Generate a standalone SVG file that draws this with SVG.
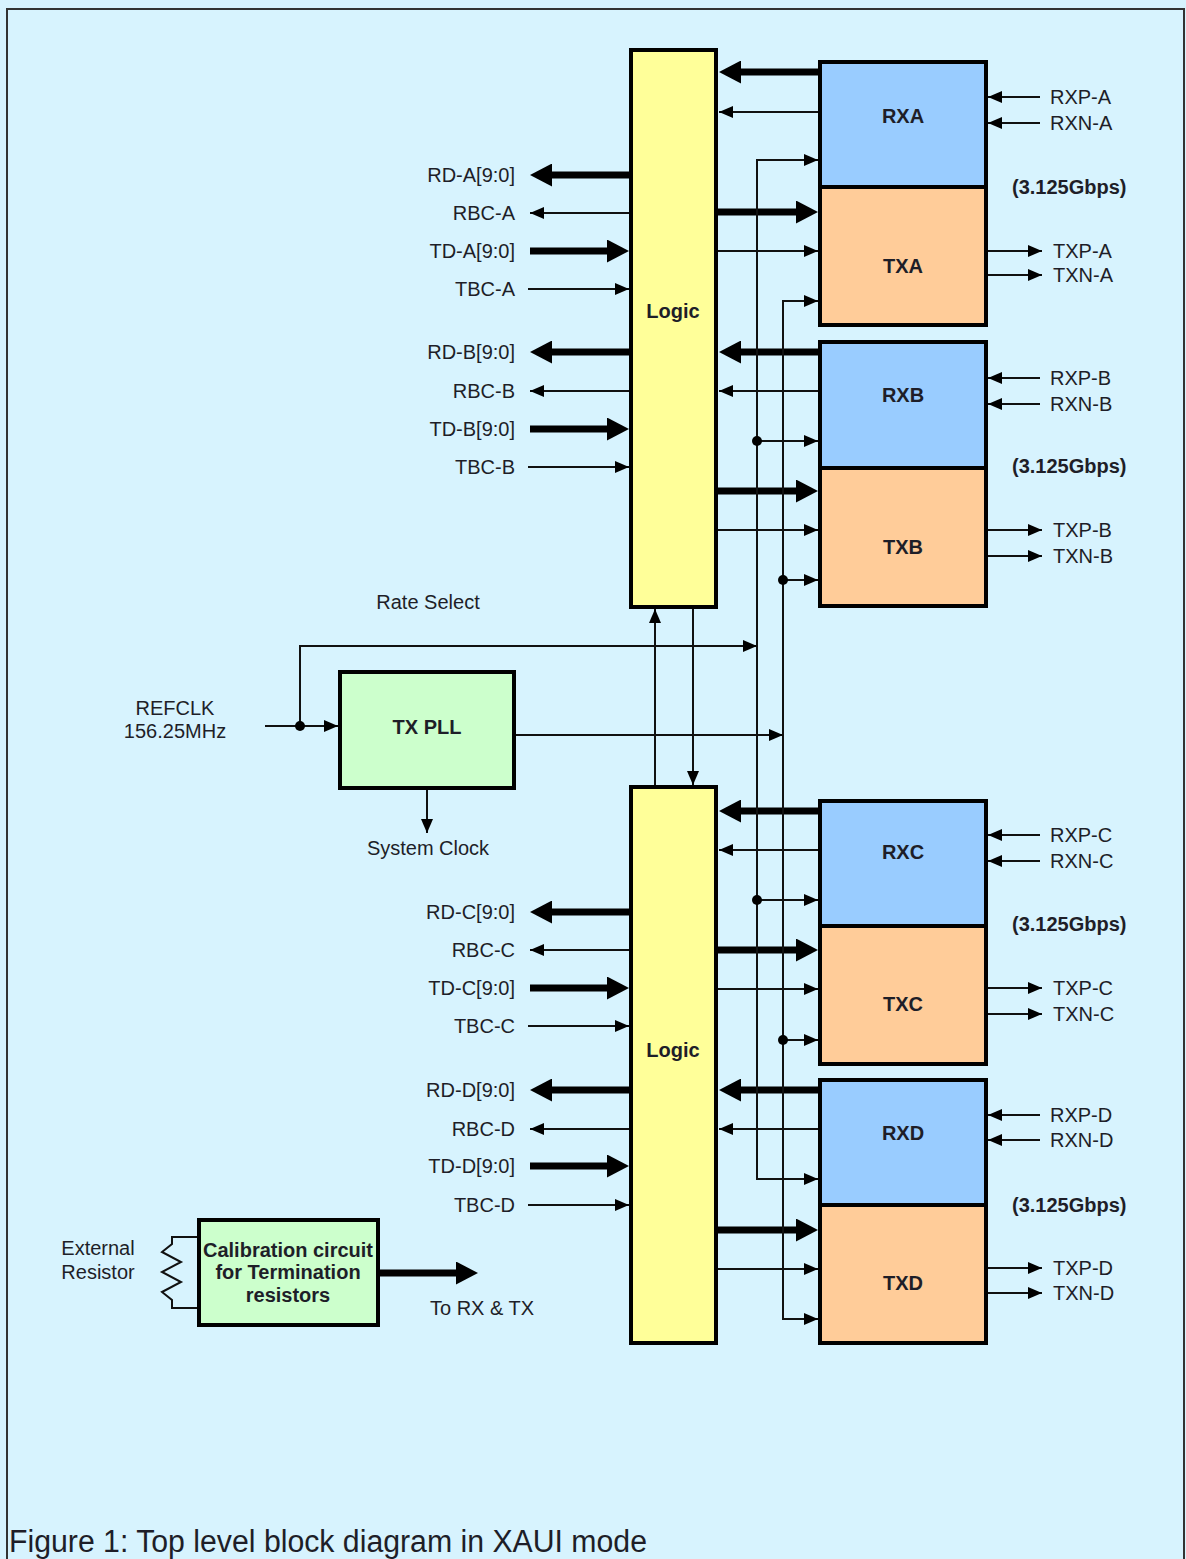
<svg xmlns="http://www.w3.org/2000/svg" width="1186" height="1559" viewBox="0 0 1186 1559">
<style>
text{font-family:"Liberation Sans",Arial,sans-serif;font-size:20px;fill:#1e1e28}
.b{font-weight:bold}
.m{text-anchor:middle}
.e{text-anchor:end}
.box{stroke:#000;stroke-width:4}
.logic{fill:#FFFF99}
.rx{fill:#99CCFF}
.tx{fill:#FFCC99}
.grn{fill:#CCFFCC}
.thin{stroke:#111;stroke-width:2;fill:none}
.thick{stroke:#000;stroke-width:7;fill:none}
</style>
<defs>
<marker id="ah" markerUnits="userSpaceOnUse" markerWidth="14" markerHeight="12" refX="14" refY="6" orient="auto-start-reverse"><path d="M0,0 L14,6 L0,12 z" fill="#000"/></marker>
<marker id="ahk" markerUnits="userSpaceOnUse" markerWidth="22" markerHeight="23" refX="14" refY="11.5" orient="auto"><path d="M0,0 L22,11.5 L0,23 z" fill="#000"/></marker>
</defs>
<rect width="1186" height="1559" fill="#D7F3FE"/>
<path d="M7,1559 V9 H1184 V1559" fill="none" stroke="#333" stroke-width="2"/>

<g id="connectors">
<!-- lane A right -->
<line class="thick" x1="818" y1="72" x2="727" y2="72" marker-end="url(#ahk)"/>
<line class="thin" x1="818" y1="112" x2="719" y2="112" marker-end="url(#ah)"/>
<line class="thick" x1="718" y1="212" x2="810" y2="212" marker-end="url(#ahk)"/>
<line class="thin" x1="718" y1="251" x2="818" y2="251" marker-end="url(#ah)"/>
<!-- lane B right -->
<line class="thick" x1="818" y1="352" x2="727" y2="352" marker-end="url(#ahk)"/>
<line class="thin" x1="818" y1="391" x2="719" y2="391" marker-end="url(#ah)"/>
<line class="thin" x1="757" y1="441" x2="818" y2="441" marker-end="url(#ah)"/>
<line class="thick" x1="718" y1="491" x2="810" y2="491" marker-end="url(#ahk)"/>
<line class="thin" x1="718" y1="530" x2="818" y2="530" marker-end="url(#ah)"/>
<line class="thin" x1="783" y1="580" x2="818" y2="580" marker-end="url(#ah)"/>
<!-- lane C right -->
<line class="thick" x1="818" y1="811" x2="727" y2="811" marker-end="url(#ahk)"/>
<line class="thin" x1="818" y1="850" x2="719" y2="850" marker-end="url(#ah)"/>
<line class="thin" x1="757" y1="900" x2="818" y2="900" marker-end="url(#ah)"/>
<line class="thick" x1="718" y1="950" x2="810" y2="950" marker-end="url(#ahk)"/>
<line class="thin" x1="718" y1="989" x2="818" y2="989" marker-end="url(#ah)"/>
<line class="thin" x1="783" y1="1040" x2="818" y2="1040" marker-end="url(#ah)"/>
<!-- lane D right -->
<line class="thick" x1="818" y1="1090" x2="727" y2="1090" marker-end="url(#ahk)"/>
<line class="thin" x1="818" y1="1129" x2="719" y2="1129" marker-end="url(#ah)"/>
<line class="thick" x1="718" y1="1230" x2="810" y2="1230" marker-end="url(#ahk)"/>
<line class="thin" x1="718" y1="1269" x2="818" y2="1269" marker-end="url(#ah)"/>
<!-- clock buses -->
<path class="thin" d="M818,160 H757 V1179 H818" marker-start="url(#ah)" marker-end="url(#ah)"/>
<path class="thin" d="M818,301 H783 V1319 H818" marker-start="url(#ah)" marker-end="url(#ah)"/>
<circle cx="757" cy="441" r="5" fill="#000"/>
<circle cx="783" cy="580" r="5" fill="#000"/>
<circle cx="757" cy="900" r="5" fill="#000"/>
<circle cx="783" cy="1040" r="5" fill="#000"/>
<!-- between logics -->
<line class="thin" x1="655" y1="785" x2="655" y2="609" marker-end="url(#ah)"/>
<line class="thin" x1="693" y1="609" x2="693" y2="785" marker-end="url(#ah)"/>
<!-- rate select / PLL -->
<path class="thin" d="M300,726 V646 H757" marker-end="url(#ah)"/>
<line class="thin" x1="265" y1="726" x2="338" y2="726" marker-end="url(#ah)"/>
<circle cx="300" cy="726" r="5" fill="#000"/>
<line class="thin" x1="516" y1="735" x2="783" y2="735" marker-end="url(#ah)"/>
<line class="thin" x1="427" y1="790" x2="427" y2="833" marker-end="url(#ah)"/>
<!-- left ports A -->
<line class="thick" x1="629" y1="175" x2="538" y2="175" marker-end="url(#ahk)"/>
<line class="thin" x1="629" y1="213" x2="530" y2="213" marker-end="url(#ah)"/>
<line class="thick" x1="530" y1="251" x2="621" y2="251" marker-end="url(#ahk)"/>
<line class="thin" x1="528" y1="289" x2="629" y2="289" marker-end="url(#ah)"/>
<!-- left ports B -->
<line class="thick" x1="629" y1="352" x2="538" y2="352" marker-end="url(#ahk)"/>
<line class="thin" x1="629" y1="391" x2="530" y2="391" marker-end="url(#ah)"/>
<line class="thick" x1="530" y1="429" x2="621" y2="429" marker-end="url(#ahk)"/>
<line class="thin" x1="528" y1="467" x2="629" y2="467" marker-end="url(#ah)"/>
<!-- left ports C -->
<line class="thick" x1="629" y1="912" x2="538" y2="912" marker-end="url(#ahk)"/>
<line class="thin" x1="629" y1="950" x2="530" y2="950" marker-end="url(#ah)"/>
<line class="thick" x1="530" y1="988" x2="621" y2="988" marker-end="url(#ahk)"/>
<line class="thin" x1="528" y1="1026" x2="629" y2="1026" marker-end="url(#ah)"/>
<!-- left ports D -->
<line class="thick" x1="629" y1="1090" x2="538" y2="1090" marker-end="url(#ahk)"/>
<line class="thin" x1="629" y1="1129" x2="530" y2="1129" marker-end="url(#ah)"/>
<line class="thick" x1="530" y1="1166" x2="621" y2="1166" marker-end="url(#ahk)"/>
<line class="thin" x1="528" y1="1205" x2="629" y2="1205" marker-end="url(#ah)"/>
<!-- right serial ports -->
<line class="thin" x1="1040" y1="97" x2="988" y2="97" marker-end="url(#ah)"/>
<line class="thin" x1="1040" y1="123" x2="988" y2="123" marker-end="url(#ah)"/>
<line class="thin" x1="988" y1="251" x2="1042" y2="251" marker-end="url(#ah)"/>
<line class="thin" x1="988" y1="275" x2="1042" y2="275" marker-end="url(#ah)"/>
<line class="thin" x1="1040" y1="378" x2="988" y2="378" marker-end="url(#ah)"/>
<line class="thin" x1="1040" y1="404" x2="988" y2="404" marker-end="url(#ah)"/>
<line class="thin" x1="988" y1="530" x2="1042" y2="530" marker-end="url(#ah)"/>
<line class="thin" x1="988" y1="556" x2="1042" y2="556" marker-end="url(#ah)"/>
<line class="thin" x1="1040" y1="835" x2="988" y2="835" marker-end="url(#ah)"/>
<line class="thin" x1="1040" y1="861" x2="988" y2="861" marker-end="url(#ah)"/>
<line class="thin" x1="988" y1="988" x2="1042" y2="988" marker-end="url(#ah)"/>
<line class="thin" x1="988" y1="1014" x2="1042" y2="1014" marker-end="url(#ah)"/>
<line class="thin" x1="1040" y1="1115" x2="988" y2="1115" marker-end="url(#ah)"/>
<line class="thin" x1="1040" y1="1140" x2="988" y2="1140" marker-end="url(#ah)"/>
<line class="thin" x1="988" y1="1268" x2="1042" y2="1268" marker-end="url(#ah)"/>
<line class="thin" x1="988" y1="1293" x2="1042" y2="1293" marker-end="url(#ah)"/>
<!-- calibration -->
<line class="thick" x1="380" y1="1273" x2="470" y2="1273" marker-end="url(#ahk)"/>
<polyline class="thin" points="197,1237 172,1237 172,1244 162,1252 181,1262 162,1272 181,1282 162,1292 172,1300 172,1308 197,1308"/>
</g>

<g id="logic-top"><rect class="box logic" x="631" y="50" width="85" height="557"/><text class="b m" x="673" y="318">Logic</text></g>
<g id="logic-bottom"><rect class="box logic" x="631" y="787" width="85" height="556"/><text class="b m" x="673" y="1057">Logic</text></g>
<g id="rxa"><rect class="box rx" x="820" y="62" width="166" height="125"/><text class="b m" x="903" y="123">RXA</text></g>
<g id="txa"><rect class="box tx" x="820" y="187" width="166" height="138"/><text class="b m" x="903" y="273">TXA</text></g>
<g id="rxb"><rect class="box rx" x="820" y="342" width="166" height="126"/><text class="b m" x="903" y="402">RXB</text></g>
<g id="txb"><rect class="box tx" x="820" y="468" width="166" height="138"/><text class="b m" x="903" y="554">TXB</text></g>
<g id="rxc"><rect class="box rx" x="820" y="801" width="166" height="125"/><text class="b m" x="903" y="859">RXC</text></g>
<g id="txc"><rect class="box tx" x="820" y="926" width="166" height="138"/><text class="b m" x="903" y="1011">TXC</text></g>
<g id="rxd"><rect class="box rx" x="820" y="1080" width="166" height="125"/><text class="b m" x="903" y="1140">RXD</text></g>
<g id="txd"><rect class="box tx" x="820" y="1205" width="166" height="138"/><text class="b m" x="903" y="1290">TXD</text></g>
<g id="txpll"><rect class="box grn" x="340" y="672" width="174" height="116"/><text class="b m" x="427" y="734">TX PLL</text></g>
<g id="calib"><rect class="box grn" x="199" y="1220" width="179" height="105"/>
<text class="b m" x="288" y="1257">Calibration circuit</text>
<text class="b m" x="288" y="1279">for Termination</text>
<text class="b m" x="288" y="1302">resistors</text></g>

<g id="labels">
<text class="e" x="515" y="182">RD-A[9:0]</text>
<text class="e" x="515" y="220">RBC-A</text>
<text class="e" x="515" y="258">TD-A[9:0]</text>
<text class="e" x="515" y="296">TBC-A</text>
<text class="e" x="515" y="359">RD-B[9:0]</text>
<text class="e" x="515" y="398">RBC-B</text>
<text class="e" x="515" y="436">TD-B[9:0]</text>
<text class="e" x="515" y="474">TBC-B</text>
<text class="e" x="515" y="919">RD-C[9:0]</text>
<text class="e" x="515" y="957">RBC-C</text>
<text class="e" x="515" y="995">TD-C[9:0]</text>
<text class="e" x="515" y="1033">TBC-C</text>
<text class="e" x="515" y="1097">RD-D[9:0]</text>
<text class="e" x="515" y="1136">RBC-D</text>
<text class="e" x="515" y="1173">TD-D[9:0]</text>
<text class="e" x="515" y="1212">TBC-D</text>

<text x="1050" y="104">RXP-A</text>
<text x="1050" y="130">RXN-A</text>
<text class="b" x="1012" y="194">(3.125Gbps)</text>
<text x="1053" y="258">TXP-A</text>
<text x="1053" y="282">TXN-A</text>
<text x="1050" y="385">RXP-B</text>
<text x="1050" y="411">RXN-B</text>
<text class="b" x="1012" y="473">(3.125Gbps)</text>
<text x="1053" y="537">TXP-B</text>
<text x="1053" y="563">TXN-B</text>
<text x="1050" y="842">RXP-C</text>
<text x="1050" y="868">RXN-C</text>
<text class="b" x="1012" y="931">(3.125Gbps)</text>
<text x="1053" y="995">TXP-C</text>
<text x="1053" y="1021">TXN-C</text>
<text x="1050" y="1122">RXP-D</text>
<text x="1050" y="1147">RXN-D</text>
<text class="b" x="1012" y="1212">(3.125Gbps)</text>
<text x="1053" y="1275">TXP-D</text>
<text x="1053" y="1300">TXN-D</text>

<text class="m" x="428" y="609">Rate Select</text>
<text class="m" x="175" y="715">REFCLK</text>
<text class="m" x="175" y="738">156.25MHz</text>
<text class="m" x="428" y="855">System Clock</text>
<text class="m" x="98" y="1255">External</text>
<text class="m" x="98" y="1279">Resistor</text>
<text x="430" y="1315">To RX &amp; TX</text>
<text x="9" y="1552" style="font-size:31px" textLength="638" lengthAdjust="spacingAndGlyphs">Figure 1: Top level block diagram in XAUI mode</text>
</g>
</svg>
